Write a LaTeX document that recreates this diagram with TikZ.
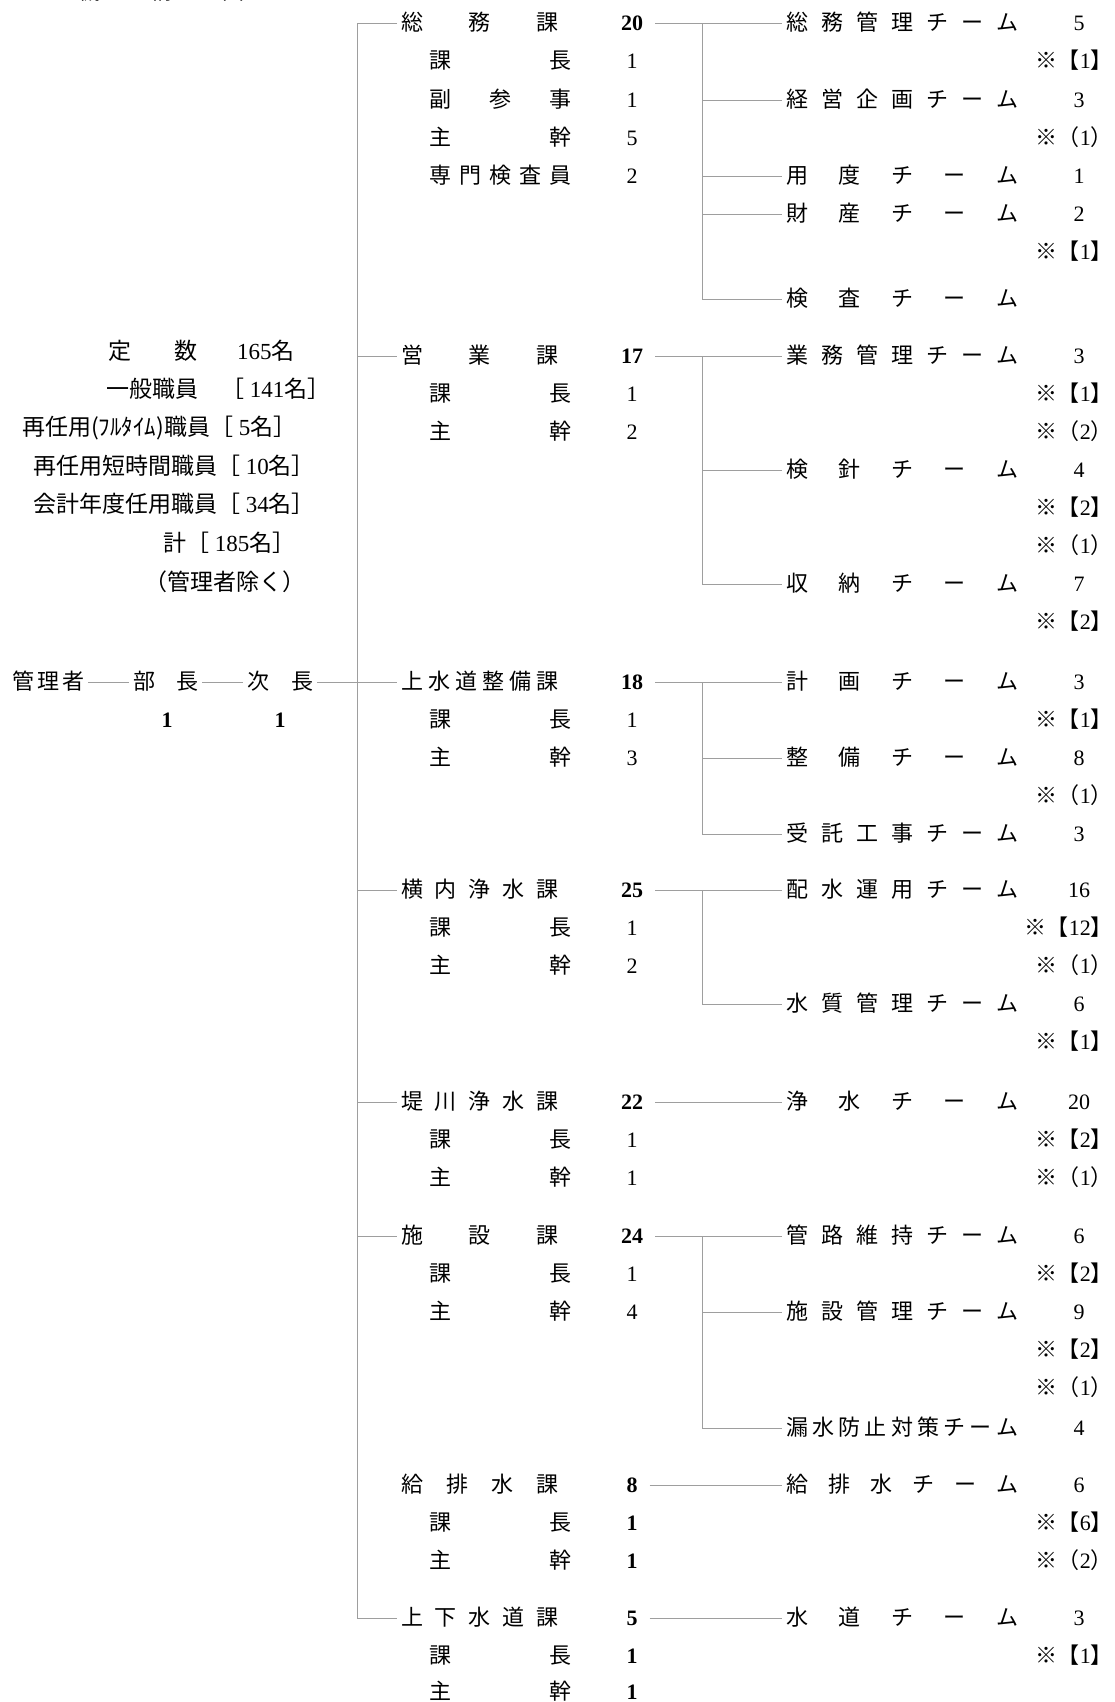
\documentclass[tikz,border=0pt]{standalone}
\usepackage{fontspec}
\setmainfont{Liberation Serif}
\newfontfamily\jp{Noto Sans CJK JP}
\usetikzlibrary{calc}

\newcommand\J[1]{{\jp #1}}
% spread the characters of #2 over a box of width #1
\def\spreadA#1#2\endspread{#1\if\relax\detokenize{#2}\relax\else\hfill\spreadA#2\endspread\fi}
\newcommand\spreadbox[2]{\makebox[#1][s]{\jp\expandafter\spreadA#2\endspread}}
\newcommand\nb[1]{\J{※【}#1\J{】}}
\newcommand\np[1]{\J{※（}#1\J{）}}

\tikzset{
  every node/.style={font=\fontsize{22}{26}\selectfont, inner sep=0pt, text height=18pt, text depth=4pt},
  conn/.style={draw=black!38, line width=1pt},
  boxname/.style={anchor=west, inner xsep=4pt},
  total/.style={anchor=west, font=\fontsize{23}{27}\selectfont},
  note/.style={anchor=east},
}

\begin{document}
\begin{tikzpicture}[x=1pt,y=-1pt]
    \useasboundingbox (0,0) rectangle (1114,1702);

    \node[anchor=base west] (title) at (78,0) {\spreadbox{166pt}{機構図}};

    % totals
    \node[total] (teisu) at (108,352) {\spreadbox{89pt}{定数}\hspace{40pt}165\J{名}};
    \node[total] (ippan) at (106,390) {\J{一般職員　［} 141\J{名］}};
    \node[total] (saininfull) at (22,428) {\J{再任用(ﾌﾙﾀｲﾑ)職員［} 5\J{名］}};
    \node[total] (saintan) at (33,467) {\J{再任用短時間職員［} 10\J{名］}};
    \node[total] (kaikei) at (33,505) {\J{会計年度任用職員［} 34\J{名］}};
    \node[total] (kei) at (163,544) {\J{計［} 185\J{名］}};
    \node[total] (jogai) at (144,583) {\J{（管理者除く）}};

    % managers
    \node[boxname] (kanri) at (8,682) {\spreadbox{72pt}{管理者}};
    \node[boxname] (bucho) at (129,682) {\spreadbox{65pt}{部長}};
    \node[boxname] (jicho) at (243,682) {\spreadbox{66pt}{次長}};
    \node (bucho-n) at (167,720) {\textbf{1}};
    \node (jicho-n) at (280,720) {\textbf{1}};

    % sections
    \foreach \y/\name/\n in {24/総務課/20, 356/営業課/17, 682/上水道整備課/18, 890/横内浄水課/25,
        1102/堤川浄水課/22, 1236/施設課/24, 1485/給排水課/8, 1618/上下水道課/5}{
        \node[boxname] (ka-\y) at (397,\y) {\spreadbox{157pt}{\name}};
        \node (kanum-\y) at (632,\y) {\textbf{\n}};
    }
    \foreach \y/\name/\n in {62/課長/1, 100/副参事/1, 138/主幹/5, 176/専門検査員/2, 394/課長/1, 432/主幹/2,
        720/課長/1, 758/主幹/3, 928/課長/1, 966/主幹/2, 1140/課長/1, 1178/主幹/1, 1274/課長/1, 1312/主幹/4,
        1523/課長/\textbf{1}, 1561/主幹/\textbf{1}, 1656/課長/\textbf{1}, 1692/主幹/\textbf{1}}{
        \node[anchor=west] (sub-\y) at (429,\y) {\spreadbox{142pt}{\name}};
        \node (subnum-\y) at (632,\y) {\n};
    }

    % teams
    \foreach \y/\name/\n in {24/総務管理チーム/5, 100/経営企画チーム/3, 176/用度チーム/1, 214/財産チーム/2,
        299/検査チーム/{}, 356/業務管理チーム/3, 470/検針チーム/4, 584/収納チーム/7, 682/計画チーム/3,
        758/整備チーム/8, 834/受託工事チーム/3, 890/配水運用チーム/16, 1004/水質管理チーム/6,
        1102/浄水チーム/20, 1236/管路維持チーム/6, 1312/施設管理チーム/9, 1428/漏水防止対策チーム/4,
        1485/給排水チーム/6, 1618/水道チーム/3}{
        \node[boxname] (team-\y) at (782,\y) {\spreadbox{232pt}{\name}};
        \node (teamnum-\y) at (1079,\y) {\n};
    }
    \foreach \y/\t in {62/\nb{1}, 138/\np{1}, 252/\nb{1}, 394/\nb{1}, 432/\np{2}, 508/\nb{2}, 546/\np{1},
        622/\nb{2}, 720/\nb{1}, 796/\np{1}, 928/\nb{12}, 966/\np{1}, 1042/\nb{1}, 1140/\nb{2}, 1178/\np{1},
        1274/\nb{2}, 1350/\nb{2}, 1388/\np{1}, 1523/\nb{6}, 1561/\np{2}, 1656/\nb{1}}
        \node[note] (note-\y) at (1113,\y) {\t};

    % lines
    \coordinate (trunk) at (357,0);
    \coordinate (tv) at (702,0);
    \draw[conn] (ka-24.west) -- (ka-24.west -| trunk) -- (ka-1618.west -| trunk) -- (ka-1618.west);
    \foreach \y in {356,890,1102,1236}
        \draw[conn] (ka-\y.west -| trunk) -- (ka-\y.west);
    \draw[conn] (kanri.east) -- (bucho.west);
    \draw[conn] (bucho.east) -- (jicho.west);
    \draw[conn] (jicho.east) -- (ka-682.west);

    \foreach \y in {24,356,682,890,1102,1236,1485,1618}
        \draw[conn] ([xshift=12pt]kanum-\y.east) -- (team-\y.west);
    \foreach \a/\b in {24/299, 356/584, 682/834, 890/1004, 1236/1428}
        \draw[conn] (team-\a.west -| tv) |- (team-\b.west);
    \foreach \y in {100,176,214,470,758,1312}
        \draw[conn] (team-\y.west -| tv) -- (team-\y.west);
\end{tikzpicture}
\end{document}
